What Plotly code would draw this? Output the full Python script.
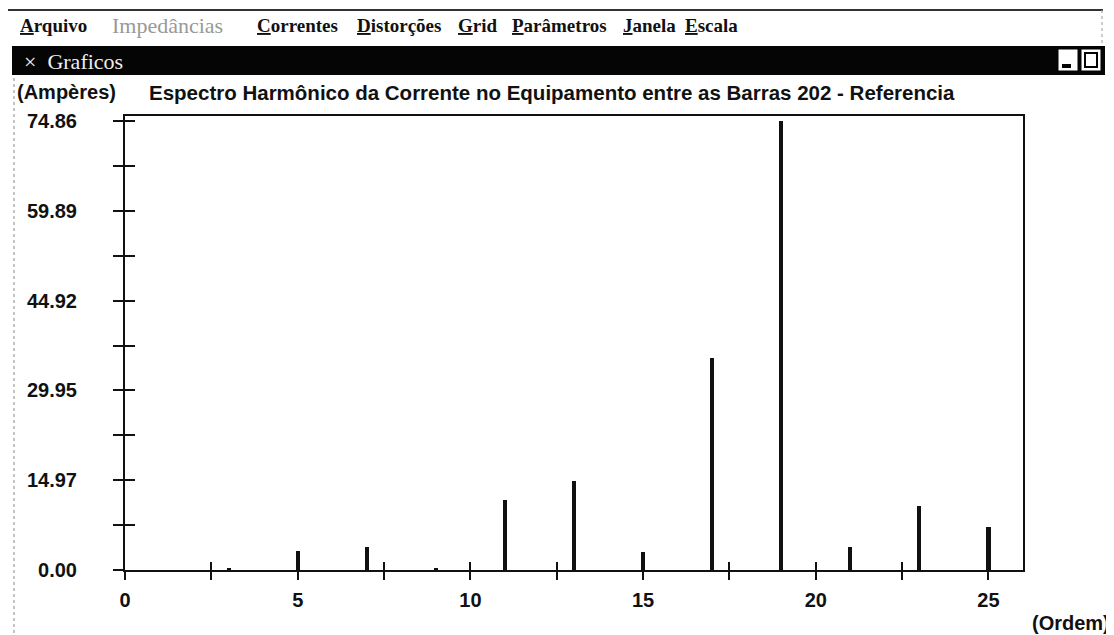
import plotly.graph_objects as go

# harmonic orders and current amplitudes (A)
orders = [3, 5, 7, 9, 11, 13, 15, 17, 19, 21, 23, 25]
amps = [0.3, 3.2, 3.9, 0.4, 11.6, 14.8, 3.0, 35.4, 74.86, 3.9, 10.7, 7.2]

y_tick_vals = [0.0, 14.973, 29.946, 44.919, 59.892, 74.865]
y_tick_labels = ["0.00", "14.97", "29.95", "44.92", "59.89", "74.86"]
y_minor_vals = [7.486, 22.459, 37.432, 52.405, 67.378]
x_tick_vals = [0, 5, 10, 15, 20, 25]
x_tick_labels = ["0", "5", "10", "15", "20", "25"]
x_minor_vals = [2.5, 7.5, 12.5, 17.5, 22.5]

menu_items = ["<u>A</u>rquivo", "Impedâncias", "<u>C</u>orrentes", "<u>D</u>istorções",
              "<u>G</u>rid", "<u>P</u>arâmetros", "<u>J</u>anela", "<u>E</u>scala"]
menu_x = [18, 110, 255, 355, 456, 510, 621, 683]

# the page puts the plot div 8px in from the top-left corner
OFF = 8
W, H = 1114 - OFF, 635 - OFF
# plot area in page pixels
L, R, T, B = 125, 1023, 116, 570


def px(x):
    return (x - L) / (R - L)


def py(y):
    return (B - y) / (B - T)


sans = "Liberation Sans, Arial, sans-serif"
serif = "Liberation Serif, Times New Roman, serif"
tick_font = {"family": sans, "size": 20, "color": "#111", "weight": "bold"}

fig = go.Figure()
fig.add_trace(
    go.Bar(x=orders, y=amps, width=0.12, marker={"color": "#111", "line": {"width": 0}},
           hoverinfo="skip", showlegend=False)
)
# empty trace so the overlay axes (inner half of the crossing ticks) get drawn
fig.add_trace(go.Scatter(x=[], y=[], xaxis="x2", yaxis="y2", showlegend=False, hoverinfo="skip"))

tick_common = {"tickwidth": 1.5, "tickcolor": "#111", "showgrid": False, "zeroline": False}

fig.update_layout(
    width=W,
    height=H,
    margin={"l": L - OFF, "r": W - (R - OFF), "t": T - OFF, "b": H - (B - OFF)},
    paper_bgcolor="white",
    plot_bgcolor="white",
    bargap=0,
    xaxis={
        "range": [0, 26],
        "tickmode": "array",
        "tickvals": x_tick_vals,
        "ticktext": x_tick_labels,
        "ticks": "outside",
        "ticklen": 8,
        "tickfont": tick_font,
        "ticklabelstandoff": 3,
        "showline": True,
        "linewidth": 2,
        "linecolor": "#111",
        "mirror": True,
        "minor": {"tickmode": "array", "tickvals": x_minor_vals, "ticks": "outside",
                  "ticklen": 8, "tickwidth": 1.5, "tickcolor": "#111"},
        **tick_common,
    },
    xaxis2={
        "range": [0, 26],
        "overlaying": "x",
        "anchor": "y",
        "tickmode": "array",
        "tickvals": x_tick_vals,
        "ticks": "inside",
        "ticklen": 8,
        "showticklabels": False,
        "showline": False,
        "minor": {"tickmode": "array", "tickvals": x_minor_vals, "ticks": "inside",
                  "ticklen": 8, "tickwidth": 1.5, "tickcolor": "#111"},
        **tick_common,
    },
    yaxis={
        "range": [0, 75.7],
        "tickmode": "array",
        "tickvals": y_tick_vals,
        "ticktext": y_tick_labels,
        "ticks": "outside",
        "ticklen": 10,
        "tickfont": tick_font,
        "ticklabelstandoff": 32,
        "showline": True,
        "linewidth": 2,
        "linecolor": "#111",
        "mirror": True,
        "minor": {"tickmode": "array", "tickvals": y_minor_vals, "ticks": "outside",
                  "ticklen": 10, "tickwidth": 1.5, "tickcolor": "#111"},
        **tick_common,
    },
    yaxis2={
        "range": [0, 75.7],
        "overlaying": "y",
        "anchor": "x",
        "side": "left",
        "tickmode": "array",
        "tickvals": y_tick_vals,
        "ticks": "inside",
        "ticklen": 10,
        "showticklabels": False,
        "showline": False,
        "minor": {"tickmode": "array", "tickvals": y_minor_vals, "ticks": "inside",
                  "ticklen": 10, "tickwidth": 1.5, "tickcolor": "#111"},
        **tick_common,
    },
)

# window chrome: menu bar line, title bar, buttons, left border
shapes = [
    {"type": "line", "x0": px(0), "x1": px(1103), "y0": py(10), "y1": py(10),
     "line": {"color": "#333", "width": 2}},
    {"type": "line", "x0": px(1102), "x1": px(1102), "y0": py(10), "y1": py(46),
     "line": {"color": "#999", "width": 1, "dash": "dot"}},
    {"type": "rect", "x0": px(12), "x1": px(1105), "y0": py(75), "y1": py(46),
     "fillcolor": "#050505", "line": {"width": 0}},
    {"type": "rect", "x0": px(1058), "x1": px(1078), "y0": py(71), "y1": py(49),
     "fillcolor": "white", "line": {"color": "#050505", "width": 1}},
    {"type": "rect", "x0": px(1062), "x1": px(1071), "y0": py(68), "y1": py(64),
     "fillcolor": "#050505", "line": {"width": 0}},
    {"type": "rect", "x0": px(1081), "x1": px(1101), "y0": py(71), "y1": py(49),
     "fillcolor": "white", "line": {"color": "#050505", "width": 1}},
    {"type": "rect", "x0": px(1085), "x1": px(1097), "y0": py(67), "y1": py(53),
     "fillcolor": "white", "line": {"color": "#050505", "width": 2}},
    {"type": "line", "x0": px(14), "x1": px(14), "y0": py(78), "y1": py(635),
     "line": {"color": "#888", "width": 1, "dash": "dot"}},
]
for s in shapes:
    s.update({"xref": "paper", "yref": "paper", "layer": "above"})
fig.update_layout(shapes=shapes)

for label, x in zip(menu_items, menu_x):
    grey = label == "Impedâncias"
    fig.add_annotation(
        x=px(x), y=py(25), xref="paper", yref="paper", xanchor="left", yanchor="middle",
        text=label, showarrow=False,
        font={"family": serif, "size": 22 if grey else 19, "color": "#999" if grey else "#111",
              "weight": "normal" if grey else "bold"},
    )

fig.add_annotation(x=px(22), y=py(61), xref="paper", yref="paper", xanchor="left",
                   yanchor="middle", text="×  Graficos", showarrow=False,
                   font={"family": serif, "size": 22, "color": "#eee"})
fig.add_annotation(x=px(15), y=py(92), xref="paper", yref="paper", xanchor="left",
                   yanchor="middle", text="(Ampères)", showarrow=False, font=tick_font)
fig.add_annotation(x=px(147), y=py(92), xref="paper", yref="paper", xanchor="left",
                   yanchor="middle",
                   text="Espectro Harmônico da Corrente no Equipamento entre as Barras 202 - Referencia",
                   showarrow=False, font={**tick_font, "size": 20.5})
fig.add_annotation(x=px(1030), y=py(623), xref="paper", yref="paper", xanchor="left",
                   yanchor="middle", text="(Ordem)", showarrow=False, font=tick_font)

fig.write_html("out.html")
